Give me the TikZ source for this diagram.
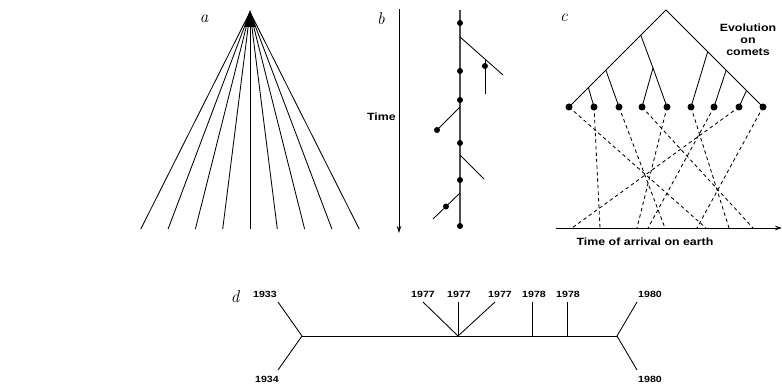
\documentclass[tikz,border=0pt]{standalone}
\usepackage{fontspec}
\setsansfont{Liberation Sans}
\newfontfamily\wideSans{Liberation Sans}[FakeStretch=1.18]
\usetikzlibrary{arrows.meta,positioning,calc}
\tikzset{
    panelLetter/.style={
        font=\itshape\fontsize{17}{17}\selectfont,
        inner sep=0pt
    },
    captionText/.style={
        font=\wideSans\bfseries\fontsize{10.5}{12}\selectfont,
        inner sep=1pt,
        align=center
    },
    yearText/.style={
        font=\wideSans\bfseries\fontsize{9}{9}\selectfont,
        inner sep=0pt
    },
    branchLine/.style={
        line width=0.85pt
    },
    mainLine/.style={
        line width=1.2pt,
        black!70
    },
    arrivalLine/.style={
        line width=0.85pt,
        dash pattern=on 3.5pt off 3pt
    },
    timeArrow/.style={
        -{Stealth[length=7pt,width=4.5pt]},
        line width=0.85pt
    },
    cometDot/.style={
        circle,
        fill,
        inner sep=0pt,
        minimum size=7pt
    },
    smallDot/.style={
        circle,
        fill,
        inner sep=0pt,
        minimum size=6pt
    }
}

\begin{document}
\begin{tikzpicture}[x=1pt,y=-1pt]
    \useasboundingbox (0,0) rectangle (782,387);

    % panel a: fan from one source
    \node[panelLetter] (letterA) at (204,19) {a};
    \coordinate (apex) at (250,12);
    \fill (apex) ++(0,-2) -- ++(-6,17) -- ++(12,0) -- cycle;
    \foreach \i in {0,...,8} {
        \coordinate (fan\i) at ({250+(\i-4)*27.3},229);
        \draw[branchLine] (apex) -- (fan\i);
    }

    % panel b: single lineage in time
    \node[panelLetter] (letterB) at (381,19) {b};
    \coordinate (timeTop) at (399,9);
    \coordinate (timeBot) at (399,233);
    \draw[timeArrow] (timeTop) -- (timeBot);
    \node[captionText,anchor=east] (timeLab) at (397,117) {Time};

    \coordinate (stemTop) at (460,10);
    \coordinate (stemBot) at (460,226);
    \draw[mainLine] (stemTop) -- (stemBot);
    \foreach \y [count=\k] in {23,71,100,143,180,226}
        \node[smallDot] (stem\k) at (460,\y) {};

    \coordinate (side1) at (460,37);
    \coordinate (side1end) at (503,75);
    \draw[branchLine] (side1) -- (side1end);
    \coordinate (twig) at ($(side1)!0.58!(side1end)$);
    \coordinate (twigEnd) at ($(twig)+(0,35)$);
    \draw[branchLine] (twig) -- (twigEnd);
    \node[smallDot] (twigDot) at ($(twig)+(0,7)$) {};

    \coordinate (side2) at (460,107);
    \node[smallDot] (side2end) at (437,130) {};
    \draw[branchLine] (side2) -- (side2end.center);

    \coordinate (side3) at (460,155);
    \coordinate (side3end) at (484,179);
    \draw[branchLine] (side3) -- (side3end);

    \coordinate (side4) at (460,193);
    \coordinate (side4end) at (433,219);
    \draw[branchLine] (side4) -- (side4end);
    \node[smallDot] (side4dot) at ($(side4)!0.52!(side4end)$) {};

    % panel c: tree on comets, arrival order on earth
    \node[panelLetter] (letterC) at (564,18) {c};
    \coordinate (root) at (666,10);
    \foreach \x [count=\k] in {569,594,619,642,667,691,714,739,763}
        \node[cometDot] (comet\k) at (\x,107) {};
    \draw[branchLine] (comet1.center) -- (root) -- (comet9.center);

    \coordinate (left1) at ($(root)!0.26!(comet1)$);
    \coordinate (left1mid) at (653,68);
    \draw[branchLine] (left1) -- (left1mid) -- (comet4.center);
    \draw[branchLine] (left1mid) -- (comet5.center);
    \coordinate (left2) at ($(root)!0.62!(comet1)$);
    \draw[branchLine] (left2) -- (comet3.center);
    \coordinate (left3) at ($(root)!0.80!(comet1)$);
    \draw[branchLine] (left3) -- (comet2.center);

    \coordinate (right1) at ($(root)!0.43!(comet9)$);
    \draw[branchLine] (right1) -- (comet6.center);
    \coordinate (right2) at ($(root)!0.62!(comet9)$);
    \draw[branchLine] (right2) -- (comet7.center);
    \coordinate (right3) at ($(root)!0.83!(comet9)$);
    \draw[branchLine] (right3) -- (comet8.center);

    \coordinate (axisL) at (556,228);
    \coordinate (axisR) at (782,228);
    \draw[timeArrow] (axisL) -- (axisR);
    \foreach \k/\x in {1/706,2/600,3/665,4/753,5/637,6/729,7/648,8/572,9/697} {
        \coordinate (arrive\k) at (\x,228);
        \draw[arrivalLine] (comet\k.center) -- (arrive\k);
    }

    \node[captionText] (evoLab) at (748,40) {Evolution\\on\\comets};
    \node[captionText] (arriveLab) at (645,242) {Time of arrival on earth};

    % panel d: dated isolates
    \node[panelLetter] (letterD) at (235,297) {d};
    \coordinate (forkL) at (302,336);
    \coordinate (forkR) at (617,336);
    \coordinate (hub) at (458,336);
    \draw[branchLine] (forkL) -- (forkR);

    \coordinate (tip1933) at (278,302);
    \coordinate (tip1934) at (278,370);
    \draw[branchLine] (tip1933) -- (forkL) -- (tip1934);
    \coordinate (tip1980a) at (637,302);
    \coordinate (tip1980b) at (637,370);
    \draw[branchLine] (tip1980a) -- (forkR) -- (tip1980b);

    \coordinate (tip1977a) at (423,302);
    \coordinate (tip1977b) at (458,302);
    \coordinate (tip1977c) at (495,302);
    \draw[branchLine] (tip1977a) -- (hub) -- (tip1977c);
    \draw[branchLine] (hub) -- (tip1977b);
    \coordinate (foot1978a) at (532,336);
    \coordinate (foot1978b) at (567,336);
    \draw[branchLine] (foot1978a) -- ++(0,-34) coordinate (tip1978a);
    \draw[branchLine] (foot1978b) -- ++(0,-34) coordinate (tip1978b);

    \node[yearText] (y1933) at (265,294) {1933};
    \node[yearText] (y1934) at (267,379) {1934};
    \node[yearText] (y1977a) at (423,294) {1977};
    \node[yearText] (y1977b) at (459,294) {1977};
    \node[yearText] (y1977c) at (500,294) {1977};
    \node[yearText] (y1978a) at (534,294) {1978};
    \node[yearText] (y1978b) at (568,294) {1978};
    \node[yearText] (y1980a) at (650,294) {1980};
    \node[yearText] (y1980b) at (650,379) {1980};
\end{tikzpicture}
\end{document}
